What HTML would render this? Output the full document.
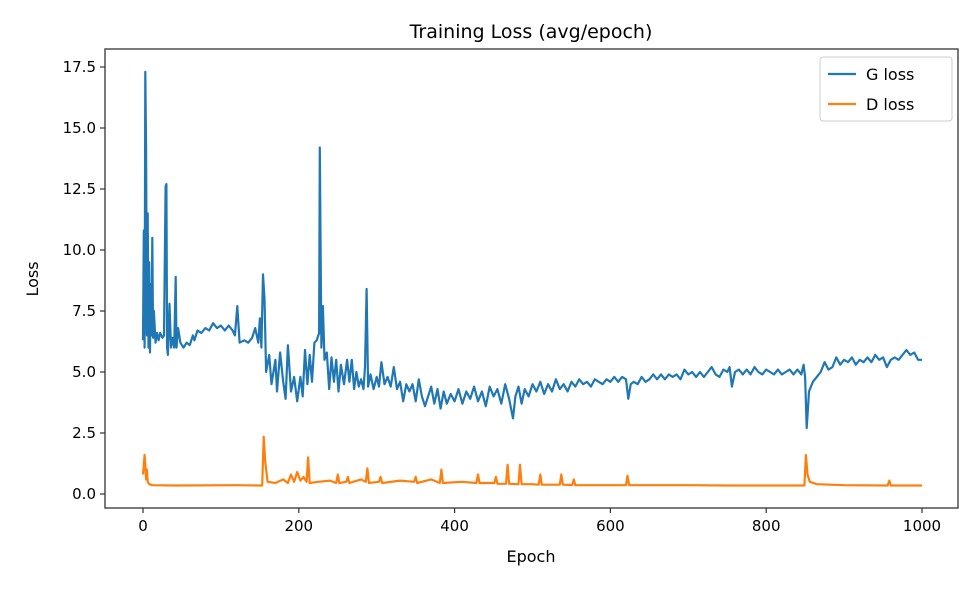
<!DOCTYPE html>
<html><head><meta charset="utf-8"><style>
body{margin:0;background:#fff;}
svg text{font-family:"DejaVu Sans","Liberation Sans",sans-serif;fill:#000;}
</style></head><body>
<svg id="chart" width="980" height="588" viewBox="0 0 980 588" xmlns="http://www.w3.org/2000/svg">
<rect width="980" height="588" fill="#fff"/>
<text x="531" y="38" font-size="19" text-anchor="middle">Training Loss (avg/epoch)</text>
<g id="axes"></g>
<g id="series"></g>
<rect x="105" y="49" width="853" height="459" fill="none" stroke="#333" stroke-width="1.3"/>
<text x="531" y="562" font-size="16" text-anchor="middle">Epoch</text>
<text x="38" y="279" font-size="16" text-anchor="middle" transform="rotate(-90 38 279)">Loss</text>
<g>
<rect x="820" y="57" width="132" height="64" rx="3" fill="#fff" fill-opacity="0.8" stroke="#ccc"/>
<line x1="828" y1="74" x2="856" y2="74" stroke="#1f77b4" stroke-width="2.2"/>
<text x="866" y="80" font-size="16">G loss</text>
<line x1="828" y1="104" x2="856" y2="104" stroke="#ff7f0e" stroke-width="2.2"/>
<text x="866" y="110" font-size="16">D loss</text>
</g>
</svg>
<script>
const xTicks=[0,200,400,600,800,1000];
const yTicks=[0,2.5,5,7.5,10,12.5,15,17.5];
const yTickLabels=["0.0","2.5","5.0","7.5","10.0","12.5","15.0","17.5"];
const gEpochs=[0,1,2,3,4,5,6,7,8,9,10,11,12,13,14,16,18,20,22,25,27,29,30,31,32,34,36,38,40,42,43,45,48,52,56,60,64,66,70,75,80,85,90,95,100,105,110,115,118,121,124,130,135,140,144,148,150,152,154,156,158,162,165,170,172,176,180,183,186,190,194,198,202,205,208,211,214,217,220,223,226,227,229,231,233,236,239,242,245,248,251,254,258,262,265,268,271,274,277,280,283,285,287,289,292,296,300,303,306,310,314,318,322,326,330,334,338,342,346,350,354,358,362,366,370,374,378,382,386,390,395,400,405,410,415,420,425,430,435,440,445,450,455,460,465,470,475,478,482,486,490,495,500,505,510,515,520,525,530,535,540,545,550,555,560,565,570,575,580,585,590,595,600,605,610,615,620,623,626,630,635,640,645,650,655,660,665,670,675,680,685,690,695,700,705,710,715,720,725,730,735,740,745,750,753,756,760,765,770,775,780,785,790,795,800,805,810,815,820,825,830,835,840,845,848,850,852,855,860,865,870,875,880,885,890,895,900,905,910,915,920,925,930,935,940,945,950,955,960,965,970,975,980,985,990,995,1000];
const gValues=[6.3,10.8,6.0,17.3,14,6.5,11.5,6.0,9.5,5.8,8.6,6.5,10.5,6.4,7.5,6.2,6.6,6.3,6.6,6.4,6.5,12.6,12.7,6.0,5.7,7.8,6.0,6.4,6.0,8.9,6.0,6.8,6.2,6.0,6.2,6.1,6.5,6.3,6.7,6.6,6.8,6.7,7.0,6.8,6.9,6.7,6.9,6.7,6.5,7.7,6.2,6.3,6.2,6.4,6.8,6.2,7.2,6.0,9.0,8.0,5.0,5.7,4.5,5.5,4.2,5.8,4.6,3.9,6.1,4.2,4.8,3.8,4.8,4.0,5.9,4.5,5.7,4.6,6.2,6.3,6.6,14.2,6.0,7.7,5.5,5.8,4.3,5.6,4.6,5.5,4.2,5.3,4.5,5.5,4.6,5.5,4.3,5.0,4.4,4.7,4.3,5.2,8.4,4.4,4.9,4.3,4.8,4.4,5.4,4.5,4.8,4.4,5.2,4.3,4.6,3.8,4.5,4.2,4.5,3.8,4.7,4.0,3.6,4.0,4.4,3.7,4.3,3.5,4.2,3.7,4.1,3.8,4.3,3.7,4.2,3.9,4.4,3.8,4.2,3.6,4.4,4.0,4.3,3.7,4.5,3.9,3.1,4.0,4.4,3.7,4.3,4.0,4.5,4.2,4.6,4.1,4.5,4.2,4.7,4.3,4.5,4.2,4.6,4.4,4.7,4.5,4.6,4.4,4.7,4.6,4.5,4.7,4.6,4.8,4.6,4.8,4.7,3.9,4.5,4.6,4.5,4.8,4.6,4.7,4.9,4.7,4.9,4.7,4.9,4.8,4.9,4.7,5.1,4.9,5.0,4.8,5.0,4.8,5.0,5.2,4.9,4.8,5.1,5.0,5.2,4.4,5.0,5.1,4.9,5.1,4.9,5.2,5.0,4.9,5.1,5.0,4.9,5.1,4.9,5.0,5.1,4.9,5.1,4.9,5.3,4.8,2.7,4.2,4.6,4.8,5.0,5.4,5.1,5.2,5.6,5.3,5.5,5.4,5.6,5.3,5.5,5.4,5.6,5.4,5.7,5.5,5.6,5.2,5.5,5.6,5.5,5.7,5.9,5.7,5.8,5.5,5.5];
const dEpochs=[0,2,3,4,5,6,8,12,40,120,153,155,157,160,170,180,186,190,194,198,202,206,210,212,214,225,240,248,250,252,261,263,265,280,286,288,290,303,305,307,330,348,350,352,370,381,383,385,410,428,430,432,451,453,455,466,468,470,482,484,486,500,508,510,512,535,537,539,551,553,555,580,620,622,624,700,750,849,851,853,856,865,900,956,958,960,1000];
const dValues=[0.8,1.6,1.2,0.6,1.0,0.5,0.4,0.36,0.35,0.36,0.35,2.35,1.3,0.5,0.45,0.6,0.45,0.8,0.5,0.9,0.55,0.7,0.5,1.5,0.45,0.5,0.55,0.45,0.8,0.45,0.5,0.7,0.45,0.6,0.5,1.05,0.45,0.5,0.7,0.45,0.55,0.5,0.7,0.45,0.6,0.45,1.0,0.45,0.5,0.45,0.8,0.45,0.45,0.7,0.42,0.42,1.2,0.42,0.4,1.2,0.4,0.4,0.38,0.8,0.38,0.38,0.8,0.38,0.37,0.6,0.36,0.36,0.36,0.75,0.36,0.36,0.35,0.35,1.6,0.8,0.5,0.4,0.36,0.35,0.55,0.35,0.35];
const X0=143,XS=(922-143)/1000,Y0=494,YS=(494-67)/17.5;
const xs=e=>X0+e*XS, ys=v=>Y0-v*YS;
const NS="http://www.w3.org/2000/svg";
const axes=document.getElementById('axes'),series=document.getElementById('series');
function mk(t,a,p){const el=document.createElementNS(NS,t);for(const k in a)el.setAttribute(k,a[k]);p.appendChild(el);return el;}
xTicks.forEach(t=>{
  const l=mk('line',{x1:xs(t),x2:xs(t),y1:508,y2:513,stroke:'#333','stroke-width':1.2},axes);
  
  
  const tx=mk('text',{x:xs(t),y:531,'font-size':15,'text-anchor':'middle'},axes);tx.textContent=t;
  
  
});
yTicks.forEach((t,i)=>{
  const l=mk('line',{x1:100,x2:105,y1:ys(t),y2:ys(t),stroke:'#333','stroke-width':1.2},axes);
  
  
  const tx=mk('text',{x:96,y:ys(t)+5,'font-size':15,'text-anchor':'end'},axes);tx.textContent=yTickLabels[i];
  
  
});
function line(ep,val,color,name){
  const d=ep.map((e,i)=>(i?'L':'M')+xs(e).toFixed(1)+' '+ys(val[i]).toFixed(1)).join(' ');
  const p=mk('path',{d:d,fill:'none',stroke:color,'stroke-width':2.2,'stroke-linejoin':'round'},series);
  
  
}
line(gEpochs,gValues,'#1f77b4','g-loss-line');
line(dEpochs,dValues,'#ff7f0e','d-loss-line');
</script>
</body></html>
